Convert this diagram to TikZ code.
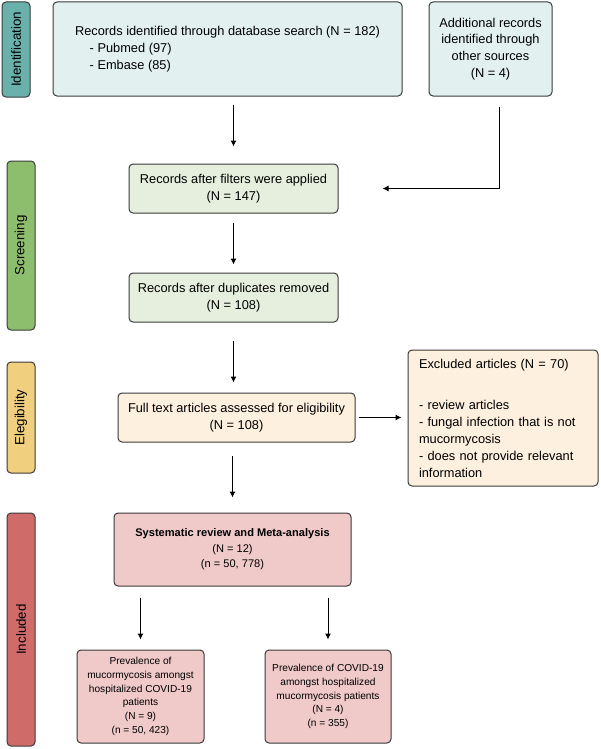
\documentclass[tikz,border=0pt]{standalone}
\usepackage{fontspec}
\setmainfont{Liberation Sans}
\usetikzlibrary{arrows.meta}
\definecolor{idfill}{HTML}{6AB1AB}
\definecolor{scfill}{HTML}{8DBE6E}
\definecolor{elfill}{HTML}{F0CF7E}
\definecolor{infill}{HTML}{CF6B69}
\definecolor{idbox}{HTML}{E2F1F0}
\definecolor{scbox}{HTML}{E6EFDD}
\definecolor{elbox}{HTML}{FDF0DE}
\definecolor{inbox}{HTML}{F0C9C9}
\definecolor{edge}{HTML}{3A3A3A}
\begin{document}
\begin{tikzpicture}[x=0.75pt,y=-0.75pt,
    stage/.style={draw=edge, line width=0.75pt, rounded corners=3pt, rotate=90,
      minimum height=21pt, inner sep=0pt, font=\fontsize{10}{12}\selectfont},
    box/.style={draw=edge, line width=0.75pt, rounded corners=3pt, align=center,
      inner sep=0pt, font=\fontsize{9.6}{12.6}\selectfont},
    small/.style={box, font=\fontsize{7.6}{10.3}\selectfont},
    arr/.style={-{Latex[length=4.5pt,width=4.5pt]}, line width=0.75pt}]
  \useasboundingbox (0,0) rectangle (600,749);
  % stages
  \node[stage, fill=idfill, minimum width=71.25pt] (ident) at (16,49.5) {Identification};
  \node[stage, fill=scfill, minimum width=126.75pt] (screen) at (21,245.5) {Screening};
  \node[stage, fill=elfill, minimum width=83.25pt] (elig) at (21,417.5) {Elegibility};
  \node[stage, fill=infill, minimum width=174.75pt] (incl) at (21,629.5) {Included};
  % boxes
  \node[box, fill=idbox, align=left, minimum width=261.75pt, minimum height=70.5pt] (db) at (227.5,49)
    {Records identified through database search (N = 182)\\
     \hspace*{11pt}- Pubmed (97)\\
     \hspace*{11pt}- Embase (85)};
  \node[box, fill=idbox, minimum width=92.25pt, minimum height=70.5pt] (add) at (490.5,49)
    {Additional records\\identified through\\other sources\\(N = 4)};
  \node[box, fill=scbox, minimum width=156.75pt, minimum height=36.75pt] (filt) at (233.5,188.5)
    {Records after filters were applied\\(N = 147)};
  \node[box, fill=scbox, minimum width=156.75pt, minimum height=36.75pt] (dup) at (233.5,297.5)
    {Records after duplicates removed\\(N = 108)};
  \node[box, fill=elbox, minimum width=177.75pt, minimum height=36.75pt] (full) at (236.5,417.5)
    {Full text articles assessed for eligibility\\(N = 108)};
  \node[box, fill=elbox, align=left, text width=126pt, minimum width=142.5pt, minimum height=102pt] (excl) at (503,418)
    {Excluded articles (N = 70)\\[18.75pt]
     - review articles\\
     - fungal infection that is not\\
     mucormycosis\\
     - does not provide relevant\\
     information};
  \node[box, fill=inbox, minimum width=177.75pt, minimum height=54.75pt,
    font=\fontsize{8.3}{11.6}\selectfont] (sys) at (232.5,549.5)
    {\textbf{Systematic review and Meta-analysis}\\(N = 12)\\(n = 50, 778)};
  \node[small, fill=inbox, minimum width=95.25pt, minimum height=69.75pt] (prev1) at (140.5,696.5)
    {Prevalence of\\mucormycosis amongst\\hospitalized COVID-19\\patients\\(N = 9)\\(n = 50, 423)};
  \node[small, fill=inbox, minimum width=94.5pt, minimum height=69.75pt] (prev2) at (328,696.5)
    {Prevalence of COVID-19\\amongst hospitalized\\mucormycosis patients\\(N = 4)\\(n = 355)};
  % arrows
  \draw[arr, shorten <=6pt, shorten >=12.75pt] (db.south -| filt.north) -- (filt.north);
  \draw[arr, shorten <=7.5pt, shorten >=33pt] ([xshift=6.4pt]add.south) |- (filt.east);
  \draw[arr, shorten <=6.75pt, shorten >=6pt] (filt.south) -- (dup.north);
  \draw[arr, shorten <=13.5pt, shorten >=7.5pt] (dup.south) -- (dup.south |- full.north);
  \draw[arr, shorten <=2.25pt, shorten >=4.5pt] (full.east) -- (full.east -| excl.west);
  \draw[arr, shorten <=9.75pt, shorten >=11.25pt] (sys.north |- full.south) -- (sys.north);
  \draw[arr, shorten <=8.25pt, shorten >=7.5pt] (sys.south -| prev1.north) -- (prev1.north);
  \draw[arr, shorten <=8.25pt, shorten >=7.5pt] (sys.south -| prev2.north) -- (prev2.north);
\end{tikzpicture}
\end{document}
